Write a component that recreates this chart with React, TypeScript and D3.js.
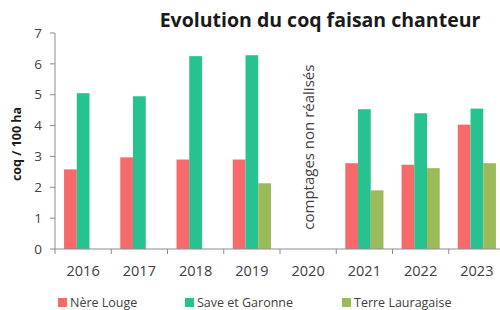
import React from "react";
import * as d3 from "d3";

const width = 500;
const height = 310;
const margin = { top: 33, right: -5, bottom: 61, left: 55 };

const years = ["2016", "2017", "2018", "2019", "2020", "2021", "2022", "2023"];
const seriesNames = ["Nère Louge", "Save et Garonne", "Terre Lauragaise"];
const colors = ["#F8696B", "#26C28F", "#9BBB59"];

// null = pas de comptage
const nereLouge = [2.58, 2.97, 2.9, 2.9, null, 2.78, 2.73, 4.03];
const saveGaronne = [5.05, 4.95, 6.25, 6.28, null, 4.53, 4.4, 4.55];
const terreLauragaise = [null, null, null, 2.13, null, 1.9, 2.62, 2.78];
const yTicks = [0, 1, 2, 3, 4, 5, 6, 7];

const series = [nereLouge, saveGaronne, terreLauragaise];

export default function App() {
  const x = d3
    .scaleBand()
    .domain(years)
    .range([margin.left, width - margin.right])
    .paddingInner(0)
    .paddingOuter(0);

  const inner = d3
    .scaleBand()
    .domain(seriesNames)
    .range([0, x.bandwidth()])
    .paddingOuter(0.71)
    .paddingInner(0);

  const y = d3
    .scaleLinear()
    .domain([0, 7])
    .range([height - margin.bottom, margin.top]);

  const font = "'Open Sans', sans-serif";
  const axisColor = "#8c8c8c";
  const textColor = "#404040";

  return (
    <svg
      width={width}
      height={height}
      style={{ position: "absolute", top: 0, left: 0, background: "#fff" }}
      fontFamily={font}
    >
      <text
        x={320}
        y={27}
        textAnchor="middle"
        fontSize={19.5}
        fontWeight="bold"
        fill="#1a1a1a"
      >
        Evolution du coq faisan chanteur
      </text>

      {/* bars */}
      {series.map((vals, si) =>
        vals.map((v, i) =>
          v == null ? null : (
            <rect
              key={`${si}-${i}`}
              x={(x(years[i]) as number) + (inner(seriesNames[si]) as number)}
              y={y(v)}
              width={inner.bandwidth()}
              height={y(0) - y(v)}
              fill={colors[si]}
            />
          )
        )
      )}

      {/* y axis */}
      <line x1={margin.left} x2={margin.left} y1={y(7)} y2={y(0)} stroke={axisColor} />
      {yTicks.map(t => (
        <g key={t}>
          <line x1={margin.left - 5} x2={margin.left} y1={y(t)} y2={y(t)} stroke={axisColor} />
          <text
            x={margin.left - 13}
            y={y(t)}
            dy="0.35em"
            textAnchor="end"
            fontSize={13.5}
            fill={textColor}
          >
            {t}
          </text>
        </g>
      ))}
      <text
        transform={`translate(21,${(y(0) + y(7)) / 2 + 3}) rotate(-90)`}
        textAnchor="middle"
        fontSize={12.5}
        fontWeight="bold"
        fill="#1a1a1a"
      >
        coq / 100 ha
      </text>

      {/* x axis */}
      <line x1={margin.left} x2={width} y1={y(0)} y2={y(0)} stroke={axisColor} />
      {years.map(yr => (
        <g key={yr}>
          <line
            x1={x(yr) as number}
            x2={x(yr) as number}
            y1={y(0)}
            y2={y(0) + 5}
            stroke={axisColor}
          />
          <text
            x={(x(yr) as number) + x.bandwidth() / 2}
            y={y(0) + 27}
            textAnchor="middle"
            fontSize={14.5}
            fill={textColor}
          >
            {yr}
          </text>
        </g>
      ))}

      <text
        transform={`translate(${(x("2020") as number) + x.bandwidth() / 2 + 6},${y(3.3)}) rotate(-90)`}
        textAnchor="middle"
        fontSize={15}
        fill={textColor}
      >
        comptages non réalisés
      </text>

      {/* legend */}
      {seriesNames.map((name, i) => {
        const lx = [58, 185, 342][i];
        return (
          <g key={name} transform={`translate(${lx},307)`}>
            <rect x={0} y={-9} width={9} height={9} fill={colors[i]} />
            <text x={12} y={0} fontSize={12.5} fill={textColor}>
              {name}
            </text>
          </g>
        );
      })}
    </svg>
  );
}
